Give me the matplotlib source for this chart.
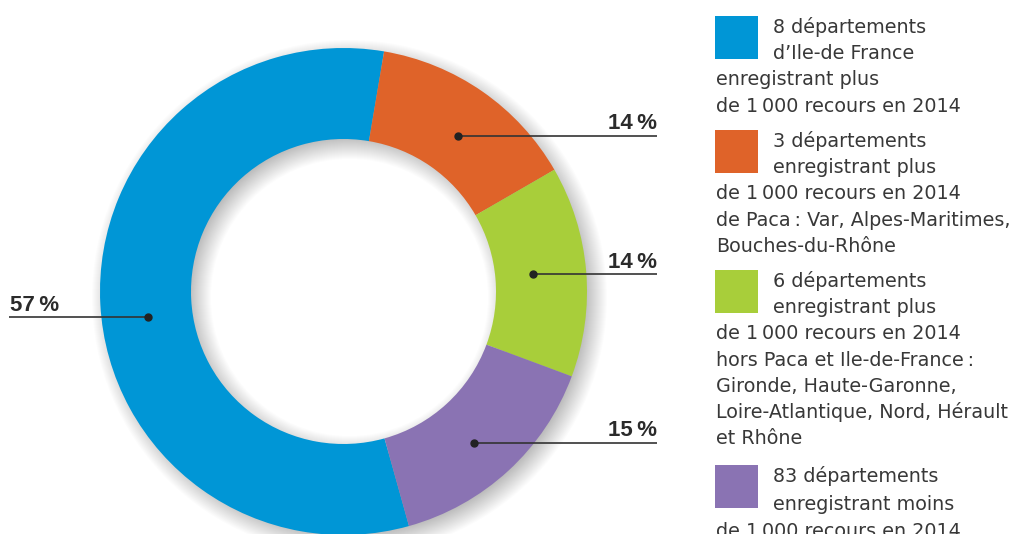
import matplotlib
matplotlib.use("Agg")
import matplotlib.pyplot as plt
from matplotlib.patches import Wedge, Rectangle

plt.rcParams['font.family'] = ['DejaVu Sans']

# ---------------- data ----------------
categories = [
    "8 départements d’Ile-de France",
    "3 départements de Paca",
    "6 départements hors Paca et Ile-de-France",
    "83 départements",
]
values = [57, 14, 14, 15]
pct_labels = ["57\u2009%", "14\u2009%", "14\u2009%", "15\u2009%"]
colors = ["#0096D6", "#DF6329", "#A8CE3A", "#8A73B3"]
legend_texts = [
    ["8 départements", "d’Ile-de France", "enregistrant plus",
     "de 1\u2009000 recours en 2014"],
    ["3 départements", "enregistrant plus", "de 1\u2009000 recours en 2014",
     "de Paca\u2009: Var, Alpes-Maritimes,", "Bouches-du-Rhône"],
    ["6 départements", "enregistrant plus", "de 1\u2009000 recours en 2014",
     "hors Paca et Ile-de-France\u2009:", "Gironde, Haute-Garonne,",
     "Loire-Atlantique, Nord, Hérault", "et Rhône"],
    ["83 départements", "enregistrant moins", "de 1\u2009000 recours en 2014"],
]

# ---------------- layout (pixel space) ----------------
W, H = 1029, 534
def Y(y):
    return H - y

cx, cy = 343.5, Y(291.5)
R_out, R_in = 243.5, 152.5

fig = plt.figure(figsize=(W / 100, H / 100), dpi=100)
ax = fig.add_axes([0, 0, 1, 1])

# soft drop shadow (offset down-right, blurred by stacked rings)
off = (6, -6)
for s in range(-14, 15):
    ax.add_patch(Wedge((cx + off[0], cy + off[1]), R_out + s, 0, 360,
                       width=(R_out - R_in) + 2 * s, color="black",
                       alpha=0.0135, lw=0, zorder=1))

wedges, _ = ax.pie(values, colors=colors, startangle=-74.4, counterclock=False,
                   center=(cx, cy), radius=R_out,
                   wedgeprops=dict(width=R_out - R_in, linewidth=0),
                   frame=True)
for w in wedges:
    w.set_zorder(2)

# leader lines + labels (annotation layout)
txt_col = "#2b2b2b"
line_col = "#333333"
lab_font = ['Liberation Sans', 'DejaVu Sans']
anchors = [(148, 317), (458, 135.5), (533, 274), (474, 443)]
for i, (lab, (dx, dy)) in enumerate(zip(pct_labels, anchors)):
    if i == 0:
        ax.plot([9, dx], [Y(dy), Y(dy)], color=line_col, lw=1.2, zorder=3,
                solid_capstyle='butt')
        ax.text(10, Y(dy - 6), lab, ha="left", va="baseline", family=lab_font,
                fontsize=16, fontweight="bold", color=txt_col, zorder=4)
    else:
        ax.plot([dx, 657], [Y(dy), Y(dy)], color=line_col, lw=1.2, zorder=3,
                solid_capstyle='butt')
        ax.text(657, Y(dy - 6.5), lab, ha="right", va="baseline", family=lab_font,
                fontsize=16, fontweight="bold", color=txt_col, zorder=4)
    ax.plot([dx], [Y(dy)], "o", color="#222222", ms=5, zorder=5)

# legend
starts = [33, 147, 287, 482]
spacings = [26.2, 26.2, 26.2, 27.5]
for col, lines, y0, sp in zip(colors, legend_texts, starts, spacings):
    ax.add_patch(Rectangle((715, Y(y0 - 17 + 43)), 43, 43, color=col, lw=0,
                           zorder=3))
    for j, line in enumerate(lines):
        x = 773 if j < 2 else 716
        ax.text(x, Y(y0 + j * sp), line, ha="left", va="baseline",
                fontsize=13.8, color="#383838", zorder=4)

ax.set_xlim(0, W)
ax.set_ylim(0, H)
ax.set_aspect("auto")
ax.axis("off")

fig.savefig("out.png", dpi=100, facecolor="white")
